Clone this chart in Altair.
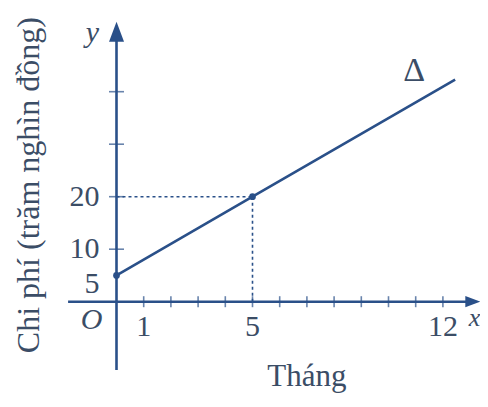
import altair as alt
import pandas as pd

# ---- data ----
line_month = [0, 5, 12.45]
line_cost = [5, 20, 42.3]
marked_month = [0, 5]
marked_cost = [5, 20]
x_tick_vals = list(range(1, 13))
y_tick_vals = [10, 20, 30, 40]
x_label_vals = [1, 5, 12]
x_label_txt = ["1", "5", "12"]
y_label_vals = [10, 20]
y_label_txt = ["10", "20"]
y_low_val = [5]
y_low_txt = ["5"]
guide_month = 5
guide_cost = 20

# ---- geometry of the view ----
W, H = 472, 391
PX_X, PX_Y = 27.2, 5.25
XMIN = -(116.5 - 8) / PX_X
XMAX = XMIN + W / PX_X
YMAX = (301.7 - 8) / PX_Y
YMIN = YMAX - H / PX_Y

LINE = "#2a5089"
TEXT = "#3b4d66"
FONT = "Liberation Serif"

xs = alt.Scale(domain=[XMIN, XMAX], nice=False, zero=False)
ys = alt.Scale(domain=[YMIN, YMAX], nice=False, zero=False)


def X(f="x"):
    return alt.X(f"{f}:Q", scale=xs, axis=None)


def Y(f="y"):
    return alt.Y(f"{f}:Q", scale=ys, axis=None)


# axes
x_axis = alt.Chart(pd.DataFrame({"x": [-1.78], "x2": [13.1], "y": [0]})).mark_rule(
    color=LINE, strokeWidth=2.6).encode(x=X(), x2="x2:Q", y=Y())
y_axis = alt.Chart(pd.DataFrame({"x": [0], "y": [-13.0], "y2": [51.4]})).mark_rule(
    color=LINE, strokeWidth=2.6).encode(x=X(), y=Y(), y2="y2:Q")

x_head = alt.Chart(pd.DataFrame({"x": [13.1], "y": [0]})).mark_point(
    shape="M1,0L-1,-0.75L-1,0.75Z", filled=True, opacity=1, color=LINE, size=225
).encode(x=X(), y=Y())
y_head = alt.Chart(pd.DataFrame({"x": [0], "y": [51.4]})).mark_point(
    shape="M0,-1L0.75,1L-0.75,1Z", filled=True, opacity=1, color=LINE, size=400
).encode(x=X(), y=Y())

x_ticks = alt.Chart(pd.DataFrame({"x": x_tick_vals, "y": [0] * len(x_tick_vals)})).mark_tick(
    orient="vertical", size=11, thickness=1.6, color=LINE).encode(x=X(), y=Y())
y_ticks = alt.Chart(pd.DataFrame({"x": [0] * len(y_tick_vals), "y": y_tick_vals})).mark_tick(
    orient="horizontal", size=15, thickness=1.6, color=LINE).encode(x=X(), y=Y())

# guides
h_guide = alt.Chart(pd.DataFrame({"x": [0], "x2": [guide_month], "y": [guide_cost]})).mark_rule(
    color=LINE, strokeWidth=1.6, strokeDash=[3, 3]).encode(x=X(), x2="x2:Q", y=Y())
v_guide = alt.Chart(pd.DataFrame({"x": [guide_month], "y": [0], "y2": [guide_cost]})).mark_rule(
    color=LINE, strokeWidth=1.6, strokeDash=[3, 3]).encode(x=X(), y=Y(), y2="y2:Q")

# main line
main = alt.Chart(pd.DataFrame({"x": line_month, "y": line_cost})).mark_line(
    color=LINE, strokeWidth=2.6).encode(x=X(), y=Y())
dots = alt.Chart(pd.DataFrame({"x": marked_month, "y": marked_cost})).mark_point(
    filled=True, opacity=1, color=LINE, size=45).encode(x=X(), y=Y())

# tick labels
txt = dict(font=FONT, color=TEXT)
x_lab = alt.Chart(pd.DataFrame({"x": x_label_vals, "y": [0] * 3, "t": x_label_txt})).mark_text(
    fontSize=30, dy=25, baseline="middle", align="center", **txt).encode(x=X(), y=Y(), text="t:N")
y_lab = alt.Chart(pd.DataFrame({"x": [0, 0], "y": y_label_vals, "t": y_label_txt})).mark_text(
    fontSize=30, dx=-17, baseline="middle", align="right", **txt).encode(x=X(), y=Y(), text="t:N")
y_low = alt.Chart(pd.DataFrame({"x": [0], "y": y_low_val, "t": y_low_txt})).mark_text(
    fontSize=30, dx=-17, dy=9, baseline="middle", align="right", **txt).encode(x=X(), y=Y(), text="t:N")

origin = alt.Chart(pd.DataFrame({"x": [0], "y": [0], "t": ["O"]})).mark_text(
    fontSize=30, fontStyle="italic", dx=-25, dy=18, baseline="middle", align="center", **txt
).encode(x=X(), y=Y(), text="t:N")
y_name = alt.Chart(pd.DataFrame({"x": [0], "y": [51.2], "t": ["y"]})).mark_text(
    fontSize=30, fontStyle="italic", dx=-24, baseline="middle", align="center", **txt
).encode(x=X(), y=Y(), text="t:N")
x_name = alt.Chart(pd.DataFrame({"x": [12.95], "y": [0], "t": ["x"]})).mark_text(
    fontSize=26, fontStyle="italic", dy=16, baseline="middle", align="left", **txt
).encode(x=X(), y=Y(), text="t:N")
delta = alt.Chart(pd.DataFrame({"x": [10.94], "y": [43.9], "t": ["Δ"]})).mark_text(
    fontSize=34, baseline="middle", align="center", **txt
).encode(x=X(), y=Y(), text="t:N")

x_title = alt.Chart(pd.DataFrame({"x": [7.0], "y": [-14.3], "t": ["Tháng"]})).mark_text(
    fontSize=31, baseline="middle", align="center", **txt).encode(x=X(), y=Y(), text="t:N")
y_title = alt.Chart(pd.DataFrame({"x": [-3.2], "y": [22.2], "t": ["Chi phí (trăm nghìn đồng)"]})).mark_text(
    fontSize=32, angle=270, baseline="middle", align="center", **txt).encode(x=X(), y=Y(), text="t:N")

chart = alt.layer(
    h_guide, v_guide, x_axis, y_axis, x_head, y_head, x_ticks, y_ticks, main, dots,
    x_lab, y_lab, y_low, origin, y_name, x_name, delta, x_title, y_title
).properties(
    width=W, height=H, autosize=alt.AutoSizeParams(type="none"), padding=0, background="white"
).configure_view(stroke=None)

chart.save("out.html", embed_options={"renderer": "svg", "actions": False})
